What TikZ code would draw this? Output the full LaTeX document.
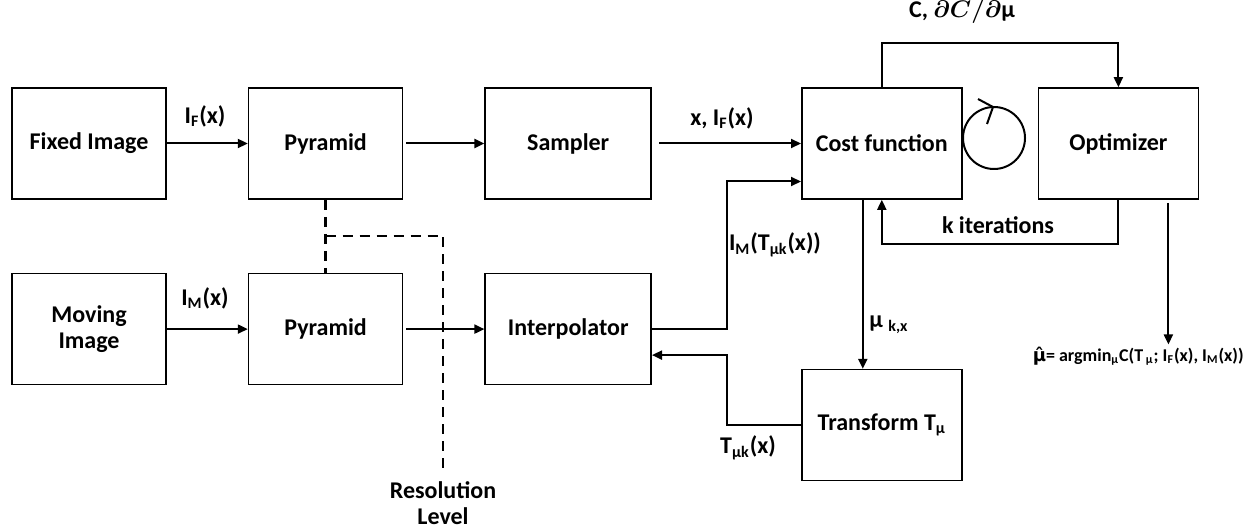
\documentclass[tikz,border=0pt]{standalone}
\usepackage{fontspec}
\setmainfont{Carlito}
\newfontfamily\dejavu{DejaVu Sans}
\usepackage{bm}
\usetikzlibrary{arrows.meta,positioning}

\begin{document}
\begin{tikzpicture}[
    x=0.5pt, y=-0.5pt,
    font=\bfseries\fontsize{12}{13}\selectfont,
    node distance=40.5pt,
    box/.style={rectangle, draw, line width=0.8pt, minimum width=77pt, minimum height=55.5pt, align=center},
    widebox/.style={box, minimum width=83pt},
    costbox/.style={box, minimum width=80pt},
    arrow/.style={-{Triangle[length=5pt, width=4.5pt]}, line width=1pt},
    dashline/.style={dash pattern=on 5pt off 3.5pt, line width=1.2pt},
    lbl/.style={inner sep=1pt}
]
    \useasboundingbox (0,0) rectangle (1252,529);

    % Fixed branch
    \node[box] (fixed) at (89,143.5) {Fixed Image};
    \node[box, right=of fixed] (pyrF) {Pyramid};
    \node[widebox, right=of pyrF] (sampler) {Sampler};
    \node[costbox, right=74.5pt of sampler] (cost) {Cost function};
    \node[costbox, right=37.5pt of cost] (opt) {Optimizer};

    % Moving branch
    \node[box, below=36.5pt of fixed] (moving) {Moving\\Image};
    \node[box, right=of moving] (pyrM) {Pyramid};
    \node[widebox, right=of pyrM] (interp) {Interpolator};
    \node[costbox, below=84.5pt of cost] (trans) {Transform T\textsubscript{μ}};

    % Labels
    \node[lbl] (lIF) at (205,116) {I\textsubscript{F}(x)};
    \node[lbl] (lIM) at (205,298) {I\textsubscript{M}(x)};
    \node[lbl] (lxIF) at (722,118) {x, I\textsubscript{F}(x)};
    \node[lbl] (lIMT) at (775,245) {I\textsubscript{M}(T\textsubscript{μk}(x))};
    \node[lbl] (lmu) at (889,325) {μ \textsubscript{k,x}};
    \node[lbl] (lT) at (748,448) {T\textsubscript{μk}(x)};
    \node[lbl] (lC) at (962,12) {C, $\bm{\partial C/\partial}$μ};
    \node[lbl] (lk) at (998,225) {k iterations};
    \node[lbl, anchor=east, font=\bfseries\fontsize{9}{11}\selectfont] (result) at (1246,356)
        {{\dejavu μ̂}= argmin\textsubscript{μ}C(T\textsubscript{ μ}; I\textsubscript{F}(x), I\textsubscript{M}(x))};
    \node[align=center, inner sep=6pt] (res) at (443,503) {Resolution\\Level};

    % Loop symbol
    \node[circle, draw, line width=1pt, minimum size=31pt, inner sep=0pt] (loop) at (994,138) {};
    \draw[line width=1pt] ([shift={(-16,-7)}]loop.north) -- ([shift={(-1,1)}]loop.north) -- ([shift={(-7,18)}]loop.north);

    % Arrows
    \draw[arrow] (fixed) -- (pyrF);
    \draw[arrow] (moving) -- (pyrM);
    \draw[arrow, shorten <=1.5pt] (pyrF) -- (sampler);
    \draw[arrow, shorten <=1.5pt] (pyrM) -- (interp);
    \draw[arrow, shorten <=3.5pt] (sampler) -- (cost);
    \draw[arrow] (interp.east) -- ++(75,0) |- ([yshift=-19pt]cost.west);
    \draw[arrow] (trans.west) -- ++(-74,0) |- ([yshift=-13pt]interp.east);
    \draw[arrow] ([xshift=-9.5pt]cost.south) -- ([xshift=-9.5pt]trans.north);
    \draw[arrow] (cost.north) -- ++(0,-44) -| (opt.north);
    \draw[arrow] (opt.south) -- ++(0,44) -| (cost.south);
    \draw[arrow] ([xshift=25pt, yshift=-1.5pt]opt.south) -- ([xshift=25pt]opt.south |- result.north);

    % Resolution level
    \draw[dashline] (pyrF.south) -- (pyrM.north);
    \draw[dashline] ([yshift=-18pt]pyrF.south) -| (res.north);

\end{tikzpicture}
\end{document}
